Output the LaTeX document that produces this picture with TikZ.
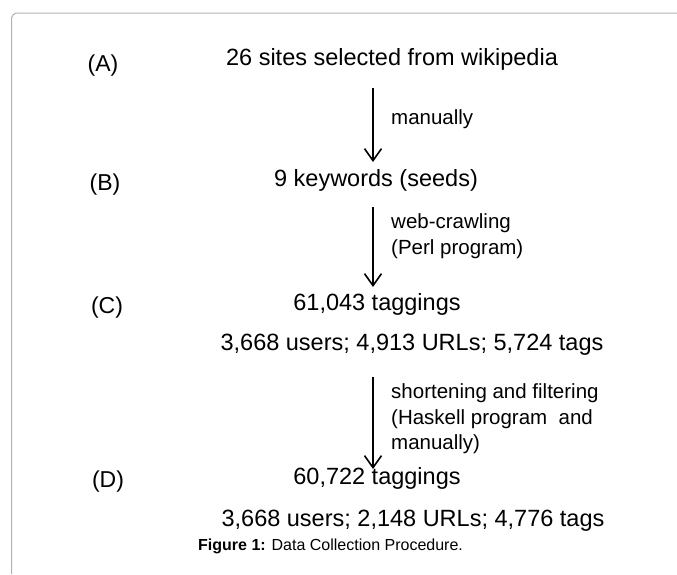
\documentclass[tikz,border=0pt]{standalone}
\usepackage{fontspec}
\setmainfont{Liberation Sans}
\usepackage{tikz}
\usetikzlibrary{arrows.meta}
\usetikzlibrary{positioning}

\begin{document}
\begin{tikzpicture}[x=1pt, y=-1pt,
        steptxt/.style={anchor=base, inner sep=0pt, font=\fontsize{23.5}{28}\selectfont},
        tag/.style={anchor=base, inner sep=0pt, font=\fontsize{23}{28}\selectfont},
        how/.style={anchor=base west, inner sep=0pt, font=\fontsize{20.5}{25}\selectfont},
        flow/.style={-{Straight Barb[length=12pt, width=17pt]}, line width=1.6pt}]
        \def\ax{373}
        \def\lx{391}

        \useasboundingbox (0,0) rectangle (677,574);
        \draw[black!30, line width=1pt, rounded corners=6pt] (11.5,574) -- (11.5,13) -- (677,13);

        % stage tags
        \node[tag] (tA) at (103,71) {(A)};
        \node[tag] (tB) at (105,190) {(B)};
        \node[tag] (tC) at (107,313) {(C)};
        \node[tag] (tD) at (108,487) {(D)};

        % stages
        \node[steptxt] (sA) at (392,65.5) {26 sites selected from wikipedia};
        \node[steptxt] (sB) at (376,186) {9 keywords (seeds)};
        \node[steptxt] (sC) at (377,310) {61,043 taggings};
        \node[steptxt] (nC) at (412,350) {3,668 users; 4,913 URLs; 5,724 tags};
        \node[steptxt] (sD) at (377,484) {60,722 taggings};
        \node[steptxt] (nD) at (413,526) {3,668 users; 2,148 URLs; 4,776 tags};

        \coordinate (a1s) at (\ax,88);
        \coordinate (a1e) at (\ax,162);
        \coordinate (a2s) at (\ax,207);
        \coordinate (a2e) at (\ax,287);
        \coordinate (a3s) at (\ax,377);
        \coordinate (a3e) at (\ax,469);

        \draw[flow] (a1s) -- (a1e);
        \draw[flow] (a2s) -- (a2e);
        \draw[flow] (a3s) -- (a3e);

        % what each step did
        \node[how] (h1) at (\lx,124) {manually};
        \node[how] (h2a) at (\lx,228) {web-crawling};
        \node[how] (h2b) at (\lx,254) {(Perl program)};
        \node[how] (h3a) at (\lx,398) {shortening and filtering};
        \node[how] (h3b) at (\lx,424) {(Haskell program\ \ and};
        \node[how] (h3c) at (\lx,449) {manually)};

        \node[anchor=base west, inner sep=0pt, font=\fontsize{16}{20}\selectfont] (cap) at (198,550)
            {\textbf{Figure 1:} Data Collection Procedure.};
\end{tikzpicture}
\end{document}
